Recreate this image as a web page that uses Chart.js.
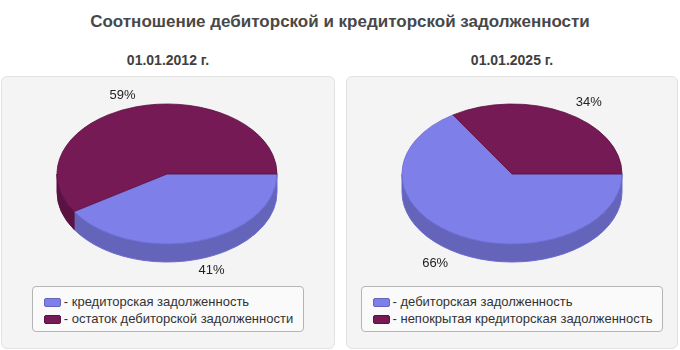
<!DOCTYPE html>
<html>
<head>
<meta charset="utf-8">
<script src="https://cdn.jsdelivr.net/npm/chart.js@4/dist/chart.umd.min.js"></script>
<style>
  body { margin: 0; width: 680px; height: 350px; background: #fff; font-family: "Liberation Sans", Arial, sans-serif; position: relative; overflow: hidden; }
  #title { position: absolute; left: 0; width: 680px; top: 12px; text-align: center; font-size: 17px; font-weight: bold; color: #484848; }
  .sub { position: absolute; top: 52px; width: 334px; text-align: center; font-size: 14px; font-weight: bold; color: #404040; }
  .panel { position: absolute; top: 76px; height: 273px; box-sizing: border-box; background: #f4f4f4; border: 1px solid #e2e2e2; border-radius: 6px; }
  .panel canvas { position: absolute; left: 0; top: -13px; }
  .legend { position: absolute; left: 0; right: 0; top: 209px; text-align: center; }
  .legend .box { display: inline-block; text-align: left; background: #fafafa; border: 1px solid #b4b4b4; border-radius: 4px; padding: 6px 10px 4px 11px; font-size: 13px; color: #333; }
  .legend .row { height: 17px; line-height: 17px; white-space: nowrap; }
  .legend .sw { display: inline-block; width: 15px; height: 7px; border: 1px solid; border-radius: 2px; margin-right: 3px; vertical-align: -1px; }
</style>
</head>
<body>
<div id="title">Соотношение дебиторской и кредиторской задолженности</div>
<div class="sub" style="left:1px" id="sub1"></div>
<div class="sub" style="left:345px" id="sub2"></div>
<div class="panel" style="left:1px;width:334px"><canvas id="pie1" width="330" height="220"></canvas><div class="legend" id="leg1"></div></div>
<div class="panel" style="left:346px;width:332px"><canvas id="pie2" width="330" height="220"></canvas><div class="legend" id="leg2"></div></div>
<script>
// данные
const dates = ["01.01.2012 г.", "01.01.2025 г."];
const labels2012 = ["кредиторская задолженность", "остаток дебиторской задолженности"];
const values2012 = [41, 59];
const labels2025 = ["дебиторская задолженность", "непокрытая кредиторская задолженность"];
const values2025 = [66, 34];

// цвета
const topColors = ["#7f7fe9", "#761a56"];
const sideColors = ["#6464ba", "#5a1242"];
const edgeColors = ["#6a6ad0", "#5c1040"];

const TILT = 70 / 110;
const DEPTH = 18;

// --- псевдо-3D пирог ---
const pie3d = {
  id: "pie3d",
  beforeDatasetsDraw(chart) {
    const ctx = chart.ctx;
    const arcs = chart.getDatasetMeta(0).data;
    const { x, y, outerRadius: r } = arcs[0];
    const ry = r * TILT;

    // боковые стенки (только передняя половина)
    ctx.save();
    arcs.forEach((arc, i) => {
      const a = Math.max(arc.startAngle, 0);
      const b = Math.min(arc.endAngle, Math.PI);
      if (b <= a) return;
      ctx.beginPath();
      ctx.ellipse(x, y, r, ry, 0, a, b);
      ctx.ellipse(x, y + DEPTH, r, ry, 0, b, a, true);
      ctx.closePath();
      ctx.fillStyle = sideColors[i];
      ctx.fill();
      ctx.strokeStyle = edgeColors[i];
      ctx.lineWidth = 1;
      ctx.stroke();
    });
    ctx.restore();

    // сплющиваем верхнюю грань
    ctx.save();
    ctx.translate(x, y);
    ctx.scale(1, TILT);
    ctx.translate(-x, -y);
  },
  afterDatasetsDraw(chart) {
    const ctx = chart.ctx;
    ctx.restore();

    // подписи процентов
    const arcs = chart.getDatasetMeta(0).data;
    const values = chart.data.datasets[0].data;
    const total = values.reduce((s, v) => s + v, 0);
    ctx.save();
    ctx.font = "13px 'Liberation Sans', Arial, sans-serif";
    ctx.fillStyle = "#222";
    ctx.textAlign = "center";
    ctx.textBaseline = "middle";
    arcs.forEach((arc, i) => {
      const mid = (arc.startAngle + arc.endAngle) / 2;
      const c = Math.cos(mid), s = Math.sin(mid);
      const lx = arc.x + arc.outerRadius * 1.45 * c;
      const ly = arc.y + (arc.outerRadius * TILT + 12) * s + (s > 0 ? DEPTH : 0);
      ctx.fillText(Math.round(values[i] / total * 100) + "%", lx, ly);
    });
    ctx.restore();
  }
};

function makePie(id, labels, values) {
  new Chart(document.getElementById(id), {
    type: "pie",
    data: {
      labels: labels,
      datasets: [{
        data: values,
        backgroundColor: topColors,
        borderColor: edgeColors,
        borderWidth: 1
      }]
    },
    options: {
      responsive: false,
      animation: false,
      rotation: 90,
      radius: 110,
      events: [],
      plugins: {
        legend: { display: false },
        tooltip: { enabled: false }
      }
    },
    plugins: [pie3d]
  });
}

function makeLegend(id, labels) {
  const box = document.createElement("div");
  box.className = "box";
  labels.forEach((l, i) => {
    const row = document.createElement("div");
    row.className = "row";
    row.innerHTML = '<span class="sw" style="background:' + topColors[i] + ';border-color:' + sideColors[i] + '"></span>- ' + l;
    box.appendChild(row);
  });
  document.getElementById(id).appendChild(box);
}

document.getElementById("sub1").textContent = dates[0];
document.getElementById("sub2").textContent = dates[1];
makePie("pie1", labels2012, values2012);
makePie("pie2", labels2025, values2025);
makeLegend("leg1", labels2012);
makeLegend("leg2", labels2025);
</script>
</body>
</html>
